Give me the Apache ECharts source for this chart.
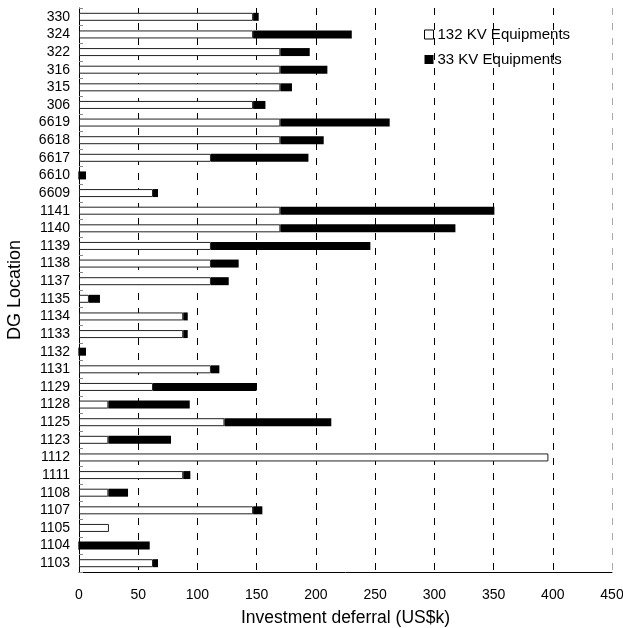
<!DOCTYPE html>
<html>
<head>
<meta charset="utf-8">
<script src="https://cdn.jsdelivr.net/npm/echarts@6/dist/echarts.min.js"></script>
<style>html,body{margin:0;padding:0;background:#fff}#c{width:623px;height:628px}</style>
</head>
<body>
<div id="c"></div>
<script>
var categories = ['1103','1104','1105','1107','1108','1111','1112','1123','1125','1128','1129','1131','1132','1133','1134','1135','1137','1138','1139','1140','1141','6609','6610','6617','6618','6619','306','315','316','322','324','330'];
var kv132 = [62.5,0,25.3,147,24.8,88,396.3,24.8,122.8,24.8,62.5,111.4,0,88,88,8.4,111.4,111.4,111.4,170,170,62.5,0,111.4,170,170,147,170,170,170,147,147];
var kv33 = [4.2,59.7,0,7.8,16.6,6,0,52.9,90.2,68.7,87.3,7.1,5.9,3.8,3.8,9.3,15,23.4,134.6,147.8,180.7,4.2,5.9,82.3,36.6,92.3,10.4,9.8,39.7,24.8,83.3,4.7];
var xTicks = [0,50,100,150,200,250,300,350,400,450];

var chart = echarts.init(document.getElementById('c'));
var font = 'Liberation Sans, Arial, sans-serif';
chart.setOption({
  animation: false,
  backgroundColor: '#fff',
  grid: {left: 79, right: 11, top: 8, bottom: 56, containLabel: false, outerBoundsMode: 'none'},
  legend: {
    orient: 'vertical', left: 419, top: 22,
    itemWidth: 9, itemHeight: 9, itemGap: 10,
    textStyle: {fontFamily: font, fontSize: 15, color: '#000', padding: [0,0,0,-1]},
    data: [
      {name: '132 KV Equipments', icon: 'rect', itemStyle: {color: '#fff', borderColor: '#000', borderWidth: 1}},
      {name: '33 KV Equipments', icon: 'rect', itemStyle: {color: '#000'}}
    ]
  },
  xAxis: {
    type: 'value', min: xTicks[0], max: xTicks[xTicks.length-1], interval: 50,
    name: 'Investment deferral (US$k)', nameLocation: 'middle', nameGap: 37,
    nameTextStyle: {fontFamily: font, fontSize: 17.5, color: '#000'},
    axisLine: {show: true, lineStyle: {color: '#000', width: 1}},
    axisTick: {show: false},
    axisLabel: {fontFamily: font, fontSize: 14, color: '#000', margin: 16},
    splitLine: {show: true, lineStyle: {type: [7, 8], width: 1, color: ['#000','#000','#000','#000','#000','#000','#000','#000','#000','#aaa']}}
  },
  yAxis: {
    type: 'category', data: categories,
    name: 'DG Location', nameLocation: 'middle', nameGap: 55,
    nameTextStyle: {fontFamily: font, fontSize: 18, color: '#000'},
    axisLine: {show: true, lineStyle: {color: '#000', width: 1}},
    axisTick: {show: true, inside: true, length: 4, lineStyle: {color: '#888'}},
    axisLabel: {fontFamily: font, fontSize: 14, color: '#000', margin: 9, interval: 0},
    splitLine: {show: false}
  },
  series: [
    {name: '132 KV Equipments', type: 'bar', stack: 'a', data: kv132, barWidth: 8,
     itemStyle: {color: '#fff', borderColor: '#222', borderWidth: 1}},
    {name: '33 KV Equipments', type: 'bar', stack: 'a', data: kv33, barWidth: 8,
     itemStyle: {color: '#000'}}
  ]
});
</script>
</body>
</html>
